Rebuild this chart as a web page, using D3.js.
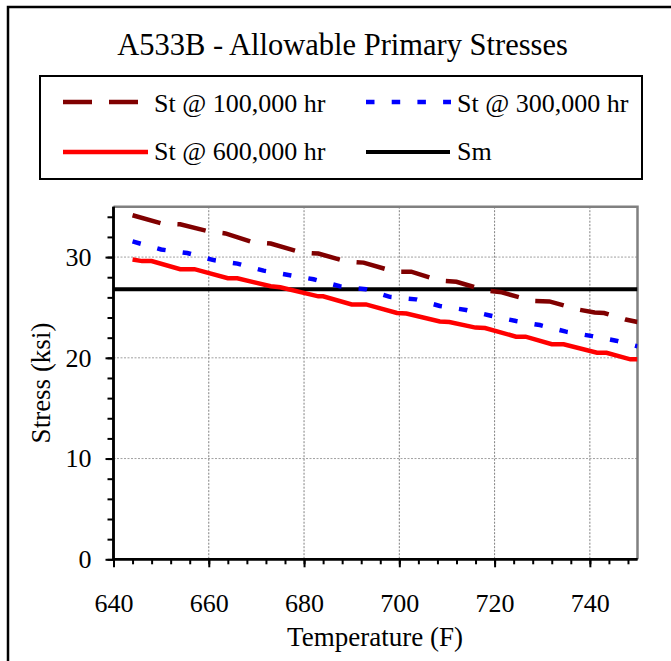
<!DOCTYPE html>
<html>
<head>
<meta charset="utf-8">
<script src="https://cdn.jsdelivr.net/npm/d3@7"></script>
<style>
  body { margin: 0; background: #fff; }
  text { font-family: "Liberation Serif", "Times New Roman", serif; fill: #000; }
</style>
</head>
<body>
<svg width="671" height="661"></svg>
<script>
// --- data ---
var title = "A533B - Allowable Primary Stresses";
var xTicks = [640, 660, 680, 700, 720, 740];
var yTicks = [0, 10, 20, 30];

var st100Temp = [644, 650, 654, 660, 663.5, 669, 673, 679.5, 683, 689, 692.5, 699, 702.5, 708.5, 712, 718, 721.5, 728, 731.5, 737.5, 741, 743, 747.5, 750];
var st100Val  = [34.15, 33.35, 33.25, 32.55, 32.35, 31.5, 31.35, 30.45, 30.35, 29.55, 29.45, 28.55, 28.55, 27.65, 27.55, 26.7, 26.5, 25.65, 25.6, 24.8, 24.5, 24.45, 23.8, 23.55];

var st300Temp = [644, 650, 655.5, 661, 666, 671.5, 677, 682, 687.5, 693, 698, 703.5, 708.5, 714, 719, 724.5, 729.5, 735, 740.5, 745.5, 750];
var st300Val  = [31.55, 30.75, 30.4, 29.7, 29.35, 28.65, 28.2, 27.8, 27.1, 26.8, 26.05, 25.8, 25.15, 24.75, 24.2, 23.65, 23.25, 22.6, 22.15, 21.7, 21.15];

var st600Temp = [644, 646, 648, 654, 657, 664, 666, 673, 675, 683, 684, 690, 693, 699.5, 701.5, 708.5, 710.5, 716, 718, 724.5, 726.5, 732, 734.5, 741.5, 743.5, 748.5, 750];
var st600Val  = [29.75, 29.6, 29.6, 28.8, 28.8, 27.9, 27.9, 27.1, 27.0, 26.1, 26.1, 25.3, 25.3, 24.45, 24.4, 23.6, 23.55, 23.0, 22.95, 22.1, 22.1, 21.35, 21.35, 20.5, 20.5, 19.85, 19.85];

var smTemp = [640, 750];
var smVal  = [26.8, 26.8];

var series = [
  { name: "Sm", temp: smTemp, val: smVal, color: "#000000", width: 4, dash: null },
  { name: "St @ 100,000 hr", temp: st100Temp, val: st100Val, color: "#800000", width: 4.5, dash: "29,17" },
  { name: "St @ 300,000 hr", temp: st300Temp, val: st300Val, color: "#0000ff", width: 4.5, dash: "8.5,17.2" },
  { name: "St @ 600,000 hr", temp: st600Temp, val: st600Val, color: "#ff0000", width: 4.5, dash: null }
];

var svg = d3.select("svg");

// outer chart frame (runs off the page right/bottom)
svg.append("rect")
    .attr("x", 8).attr("y", 7)
    .attr("width", 720).attr("height", 720)
    .attr("fill", "none").attr("stroke", "#000").attr("stroke-width", 2.5);

var pLeft = 113.5, pRight = 637.5, pTop = 206.7, pBottom = 559.3;

var x = d3.scaleLinear().domain([640, 750]).range([pLeft, pRight]);
var y = d3.scaleLinear().domain([0, 35]).range([pBottom, pTop]);

// title
svg.append("text")
    .attr("x", 342.5).attr("y", 55)
    .attr("text-anchor", "middle")
    .style("font-size", "30.5px")
    .text(title);

// gridlines
var g = svg.append("g");
g.selectAll("line.vg")
  .data(xTicks.filter(function(d) { return d > 640; }))
  .enter().append("line")
    .attr("x1", function(d) { return x(d); }).attr("x2", function(d) { return x(d); })
    .attr("y1", pTop).attr("y2", pBottom)
    .attr("stroke", "#808080").attr("stroke-width", 1).attr("stroke-dasharray", "2,1.5");
g.selectAll("line.hg")
  .data(yTicks.filter(function(d) { return d > 0; }))
  .enter().append("line")
    .attr("y1", function(d) { return y(d); }).attr("y2", function(d) { return y(d); })
    .attr("x1", pLeft).attr("x2", pRight)
    .attr("stroke", "#a0a0a0").attr("stroke-width", 1).attr("stroke-dasharray", "2,1.5");

// top / right plot border
g.append("path")
    .attr("d", "M" + pLeft + "," + pTop + "H" + pRight + "V" + pBottom)
    .attr("fill", "none").attr("stroke", "#808080").attr("stroke-width", 2.5);

// series lines
svg.append("clipPath").attr("id", "clip")
  .append("rect").attr("x", pLeft).attr("y", pTop).attr("width", pRight - pLeft).attr("height", pBottom - pTop);

var line = d3.line()
    .x(function(d) { return x(d[0]); })
    .y(function(d) { return y(d[1]); });

var lines = svg.append("g").attr("clip-path", "url(#clip)");
series.forEach(function(s) {
  var pts = s.temp.map(function(t, i) { return [t, s.val[i]]; });
  lines.append("path")
      .attr("d", line(pts))
      .attr("fill", "none")
      .attr("stroke", s.color)
      .attr("stroke-width", s.width)
      .attr("stroke-dasharray", s.dash);
});

// axes: minor ticks then major ticks with labels
var xMinor = svg.append("g").attr("transform", "translate(0," + pBottom + ")")
    .call(d3.axisBottom(x).tickValues(d3.range(640, 751, 4)).tickSize(5).tickFormat(""));
var xMajor = svg.append("g").attr("transform", "translate(0," + pBottom + ")")
    .call(d3.axisBottom(x).tickValues(xTicks).tickSize(8).tickPadding(26).tickFormat(d3.format("d")));
var yMinor = svg.append("g").attr("transform", "translate(" + pLeft + ",0)")
    .call(d3.axisLeft(y).tickValues(d3.range(0, 35, 2)).tickSize(6).tickFormat(""));
var yMajor = svg.append("g").attr("transform", "translate(" + pLeft + ",0)")
    .call(d3.axisLeft(y).tickValues(yTicks).tickSize(8).tickPadding(14).tickFormat(d3.format("d")));

[xMinor, xMajor, yMinor, yMajor].forEach(function(a) {
  a.selectAll(".domain").attr("stroke", "#000").attr("stroke-width", 2.5);
  a.selectAll(".tick line").attr("stroke", "#000").attr("stroke-width", 2);
  a.selectAll("text")
      .style("font-family", "'Liberation Serif', 'Times New Roman', serif")
      .style("font-size", "26px").attr("fill", "#000");
});
xMajor.select(".domain").attr("d", "M" + pLeft + ",0H" + pRight);
xMinor.select(".domain").attr("d", "M" + pLeft + ",0H" + pRight);
yMajor.select(".domain").attr("d", "M0," + pTop + "V" + pBottom);
yMinor.select(".domain").attr("d", "M0," + pTop + "V" + pBottom);

// axis titles
svg.append("text")
    .attr("x", 375).attr("y", 646)
    .attr("text-anchor", "middle")
    .style("font-size", "27px")
    .text("Temperature (F)");
svg.append("text")
    .attr("transform", "translate(50,383) rotate(-90)")
    .attr("text-anchor", "middle")
    .style("font-size", "27px")
    .text("Stress (ksi)");

// legend
svg.append("rect")
    .attr("x", 40).attr("y", 76).attr("width", 602).attr("height", 103)
    .attr("fill", "#fff").attr("stroke", "#000").attr("stroke-width", 2);

var legendItems = [
  { s: series[1], lx: 63, lx2: 139, tx: 154, ly: 102, ty: 111.5 },
  { s: series[2], lx: 366, lx2: 451, tx: 457, ly: 102, ty: 111.5 },
  { s: series[3], lx: 63, lx2: 148, tx: 154, ly: 152, ty: 160 },
  { s: series[0], lx: 366, lx2: 450, tx: 457, ly: 152, ty: 160 }
];
var leg = svg.append("g");
legendItems.forEach(function(it) {
  leg.append("line")
      .attr("x1", it.lx).attr("x2", it.lx2)
      .attr("y1", it.ly).attr("y2", it.ly)
      .attr("stroke", it.s.color)
      .attr("stroke-width", it.s.width)
      .attr("stroke-dasharray", it.s.dash);
  leg.append("text")
      .attr("x", it.tx).attr("y", it.ty)
      .style("font-size", "26px")
      .text(it.s.name);
});
</script>
</body>
</html>
